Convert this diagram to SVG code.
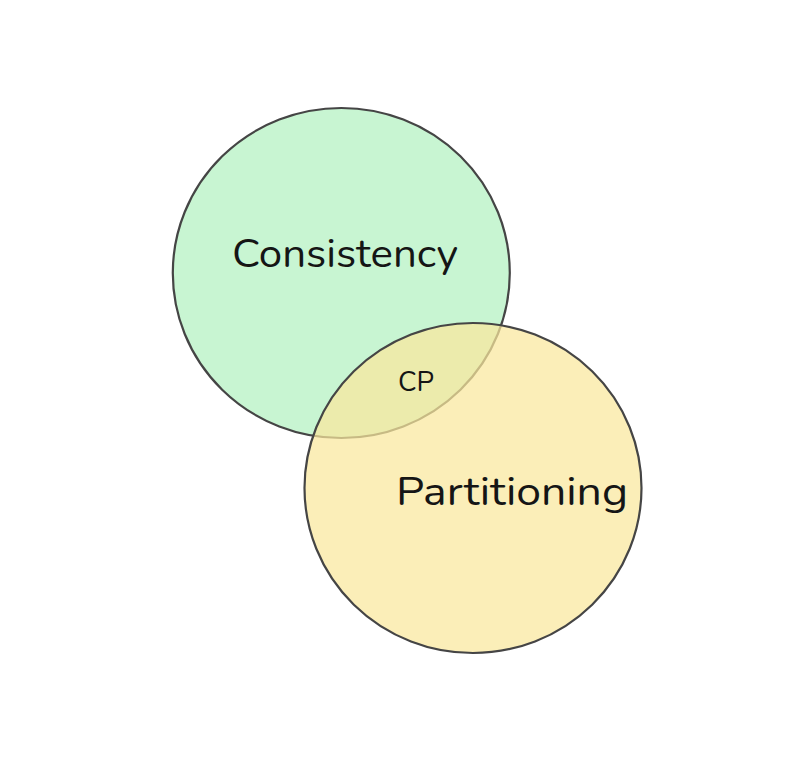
<svg xmlns="http://www.w3.org/2000/svg" width="800" height="771" viewBox="0 0 800 771">
<style>
.c{stroke:#454545;stroke-width:2.2}
.t{font-family:"Nunito","Open Sans","Noto Sans",sans-serif;fill:#151515}
</style>
<rect width="800" height="771" fill="#fff"/>
<g id="consistency">
<ellipse class="c" cx="341.3" cy="273" rx="168.5" ry="165" fill="#c8f5d2"/>
<text class="t" x="345" y="267" font-size="40" text-anchor="middle" textLength="226" lengthAdjust="spacingAndGlyphs">Consistency</text>
</g>
<g id="partitioning">
<ellipse class="c" cx="473" cy="488" rx="168.5" ry="165" fill="#fae89c" fill-opacity="0.72"/>
<text class="t" x="512" y="505" font-size="40" text-anchor="middle" textLength="232" lengthAdjust="spacingAndGlyphs">Partitioning</text>
</g>
<g id="cp">
<text class="t" x="416" y="391" font-size="28" text-anchor="middle" textLength="36" lengthAdjust="spacingAndGlyphs">CP</text>
</g>
<g id="connectors"/>
</svg>
